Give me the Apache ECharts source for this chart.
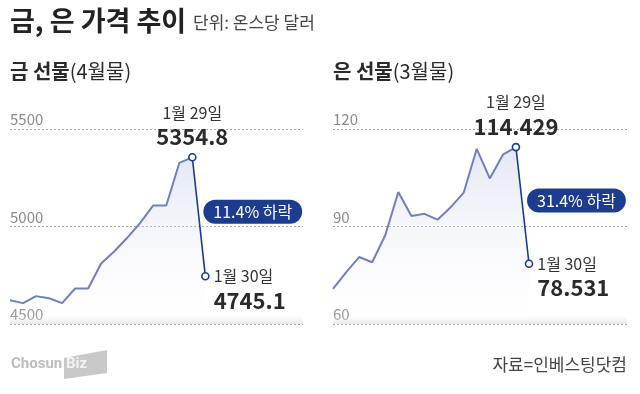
<!DOCTYPE html>
<html><head><meta charset="utf-8">
<script src="https://cdn.jsdelivr.net/npm/echarts@6/dist/echarts.min.js"></script>
<style>html,body{margin:0;padding:0;background:#fff}#c{width:640px;height:394px}</style>
</head><body><div id="c"></div>
<script>
// ---- data ----
const goldValues = [4622, 4607, 4643, 4632, 4607, 4682, 4682, 4810, 4872, 4942, 5019, 5108, 5108, 5326, 5354.8, 4745.1];
const silverValues = [70.8, 75.9, 80.6, 79.0, 87.3, 100.6, 93.2, 93.9, 92.1, 95.9, 100.4, 113.9, 104.8, 112.1, 114.429, 78.531];
const markDates = ['1월 29일', '1월 30일'];
const goldTicks = [4500, 5000, 5500];
const silverTicks = [60, 90, 120];
const dropLabels = ['11.4% 하락', '31.4% 하락'];
const panelTitles = [['금 선물', '(4월물)'], ['은 선물', '(3월물)']];

const FONT = '"Noto Sans CJK KR", "Noto Sans", sans-serif';
const LIGHT = '#6f80bd';
const NAVY = '#1e3c8e';
const XMAX = 22.5;

function panelSeries(vals, idx, decimals) {
  const n = vals.length;
  const light = vals.slice(0, n - 1).map((v, i) => [i, v]);
  const peak = vals[n - 2], last = vals[n - 1];
  const area = {
    color: {type: 'linear', x: 0, y: 0, x2: 0, y2: 1, colorStops: [
      {offset: 0, color: 'rgba(196,202,234,0.65)'},
      {offset: 1, color: 'rgba(255,255,255,0.15)'}]}
  };
  return [
    {type: 'line', xAxisIndex: idx, yAxisIndex: idx, data: light, symbol: 'none',
     lineStyle: {color: LIGHT, width: 2}, areaStyle: area, z: 2, silent: true},
    {type: 'line', xAxisIndex: idx, yAxisIndex: idx, symbol: 'circle', symbolSize: 7,
     itemStyle: {color: '#fff', borderColor: NAVY, borderWidth: 1.6},
     lineStyle: {color: NAVY, width: 1.6}, areaStyle: area, z: 3, silent: true,
     data: [
       {value: [n - 2, peak], label: {show: true, position: 'top', distance: 3,
         formatter: '{d|' + markDates[0] + '}\n{v|' + peak.toFixed(decimals) + '}',
         rich: {d: {fontFamily: FONT, fontSize: 16, color: '#333', lineHeight: 23, align: 'center'},
                v: {fontFamily: FONT, fontSize: 22, fontWeight: 'bold', color: '#2a2a2a', lineHeight: 26, align: 'center'}}}},
       {value: [n - 1, last], label: {show: true, position: 'right', distance: 4, offset: [0, 13],
         formatter: '{d|' + markDates[1] + '}\n{v|' + last.toFixed(decimals) + '}',
         rich: {d: {fontFamily: FONT, fontSize: 16, color: '#333', lineHeight: 22, align: 'left'},
                v: {fontFamily: FONT, fontSize: 22, fontWeight: 'bold', color: '#2a2a2a', lineHeight: 26, align: 'left'}}}}
     ],
     markPoint: {symbol: 'circle', symbolSize: 0, silent: true,
       data: [{coord: [n - 1, (peak + last) / 2],
         label: {show: true, position: 'right', distance: 0, offset: [-2, -5],
           formatter: dropLabels[idx], color: '#fff', fontFamily: FONT, fontSize: 16,
           backgroundColor: NAVY, borderRadius: 12, padding: [3, 10, 3, 10], lineHeight: 18}}]}
    }
  ];
}

function yAxis(idx, ticks) {
  return {type: 'value', gridIndex: idx, min: ticks[0], max: ticks[ticks.length - 1],
    interval: ticks[1] - ticks[0],
    axisLine: {show: false}, axisTick: {show: false},
    axisLabel: {inside: true, verticalAlign: 'bottom', margin: 0, padding: [0, 0, 2, 0],
      formatter: v => String(v),
      color: '#8a8a8a', fontSize: 15, fontFamily: FONT, showMinLabel: true, showMaxLabel: true},
    splitLine: {show: true, lineStyle: {type: [2, 2], color: '#a8a8a8', width: 1}}};
}
function xAxis(idx) {
  return {type: 'value', gridIndex: idx, min: 0, max: XMAX, show: false};
}

const chart = echarts.init(document.getElementById('c'), null, {renderer: 'canvas'});
chart.setOption({
  backgroundColor: '#fff',
  animation: false,
  grid: [
    {left: 10, right: 337, top: 129, bottom: 70},
    {left: 333, right: 13, top: 129, bottom: 70}
  ],
  xAxis: [xAxis(0), xAxis(1)],
  yAxis: [yAxis(0, goldTicks), yAxis(1, silverTicks)],
  series: [...panelSeries(goldValues, 0, 1), ...panelSeries(silverValues, 1, 3)],
  graphic: [
    {type: 'rect', left: 10, top: 316, shape: {width: 293, height: 8}, silent: true, z: 1,
     style: {fill: {type: 'linear', x: 0, y: 0, x2: 0, y2: 1, colorStops: [
       {offset: 0, color: 'rgba(230,230,230,0)'}, {offset: 1, color: 'rgba(225,225,225,0.8)'}]}}},
    {type: 'rect', left: 333, top: 316, shape: {width: 294, height: 8}, silent: true, z: 1,
     style: {fill: {type: 'linear', x: 0, y: 0, x2: 0, y2: 1, colorStops: [
       {offset: 0, color: 'rgba(230,230,230,0)'}, {offset: 1, color: 'rgba(225,225,225,0.8)'}]}}},
    {type: 'text', left: 10, top: 7, style: {text: '금, 은 가격 추이', fontFamily: FONT, fontSize: 27, fontWeight: 'bold', fill: '#222'}},
    {type: 'text', left: 193, top: 14, style: {text: '단위: 온스당 달러', fontFamily: FONT, fontSize: 17, fill: '#444'}},
    {type: 'text', left: 10, top: 61, style: {text: '{b|' + panelTitles[0][0] + '}{n|' + panelTitles[0][1] + '}',
      rich: {b: {fontFamily: FONT, fontSize: 20, fontWeight: 'bold', fill: '#2a2a2a'}, n: {fontFamily: FONT, fontSize: 20, fill: '#2a2a2a'}}}},
    {type: 'text', left: 333, top: 61, style: {text: '{b|' + panelTitles[1][0] + '}{n|' + panelTitles[1][1] + '}',
      rich: {b: {fontFamily: FONT, fontSize: 20, fontWeight: 'bold', fill: '#2a2a2a'}, n: {fontFamily: FONT, fontSize: 20, fill: '#2a2a2a'}}}},
    {type: 'text', right: 13, top: 356, style: {text: '자료=인베스팅닷컴', fontFamily: FONT, fontSize: 17, fill: '#444'}},
    {type: 'text', left: 11, top: 357, style: {text: 'Chosun', fontFamily: 'Roboto, sans-serif', fontSize: 15, fontWeight: 'bold', fill: '#bdbdbd'}},
    {type: 'polygon', shape: {points: [[64, 358], [107, 350], [107, 373], [64, 379]]}, style: {fill: '#c8c8c8'}},
    {type: 'text', left: 66, top: 357, style: {text: 'Biz', fontFamily: 'Roboto, sans-serif', fontSize: 15, fontWeight: 'bold', fill: '#f2f2f2'}}
  ]
});
</script></body></html>
